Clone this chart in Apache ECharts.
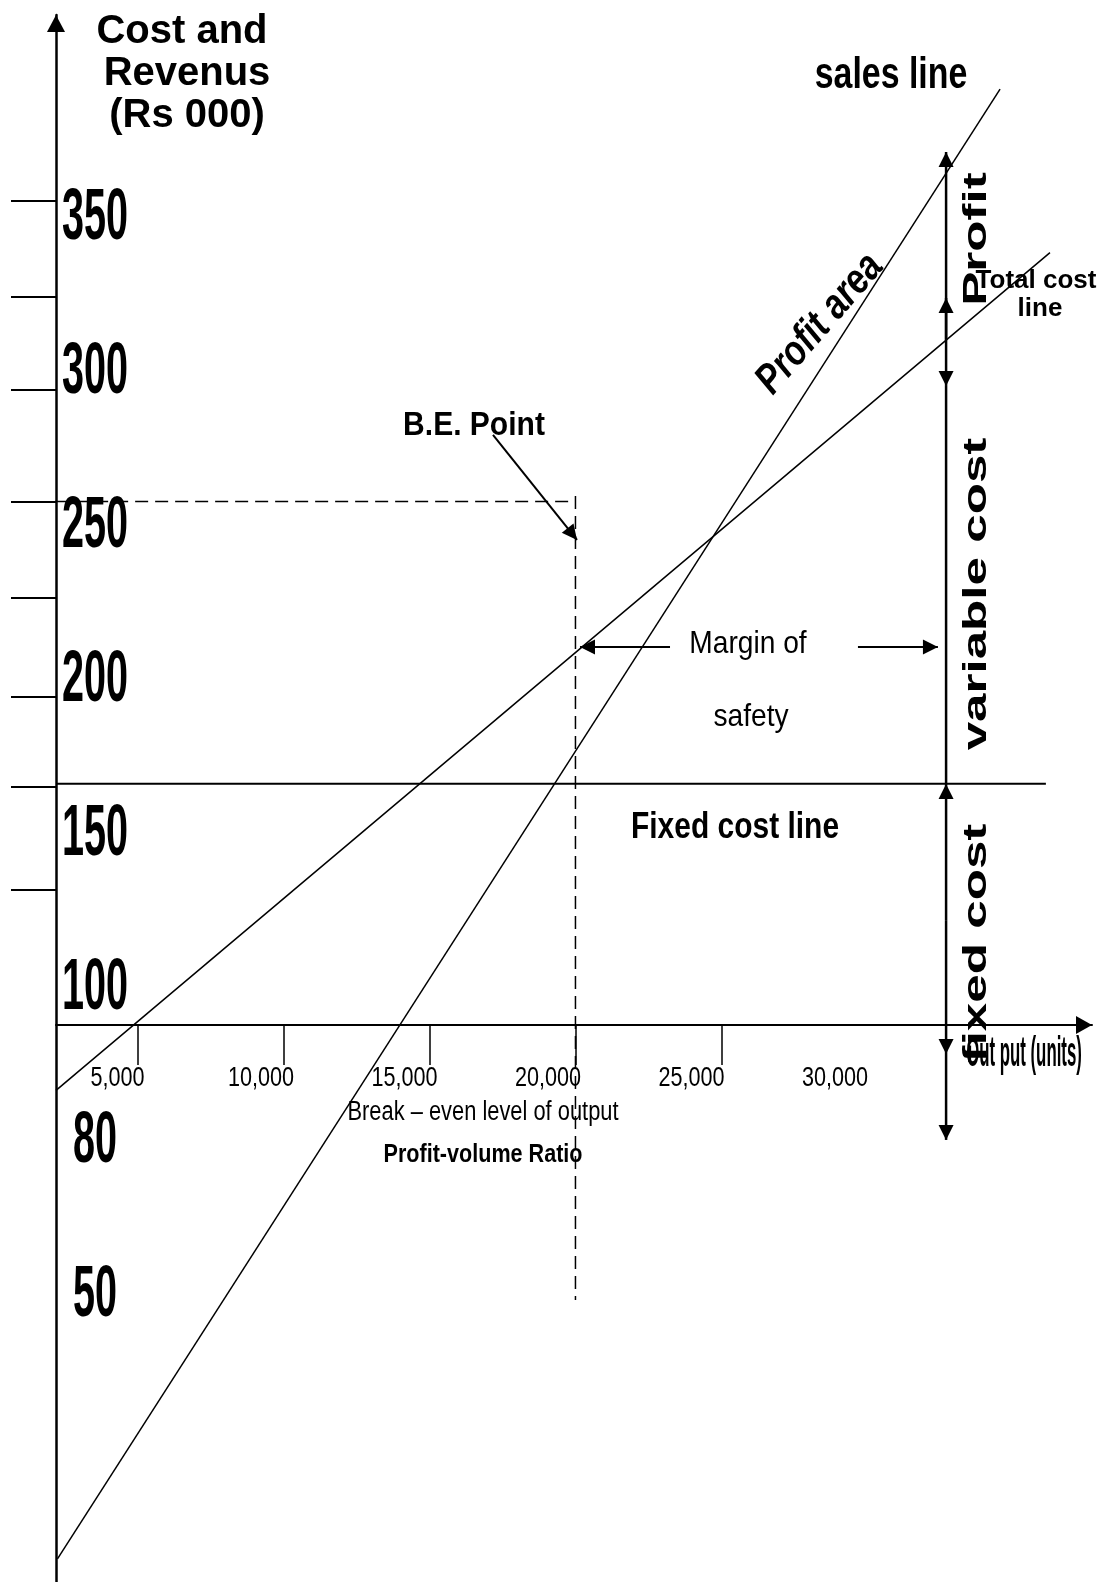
<!DOCTYPE html>
<html><head><meta charset="utf-8">
<script src="https://cdn.jsdelivr.net/npm/echarts@6/dist/echarts.min.js"></script>
<style>html,body{margin:0;padding:0;background:#fff}#c{width:1108px;height:1582px}</style>
</head><body><div id="c"></div>
<script>
// ---- values: output in units, cost / revenue in Rs 000 ----
const salesLine      = [[2250, -87.5], [34550, 389.9]];
const totalCostLine  = [[2200, 64.7], [36260, 336.8]];
const fixedCostLine  = [[2200, 164.3], [36120, 164.3]];
const beLevelLine    = [[800, 256], [20000, 256]];
const beOutputLine   = [[20000, 257.8], [20000, -3.4]];
const xTickValues    = [5000, 10000, 15000, 20000, 25000];
const xLabelValues   = [5000, 10000, 15000, 20000, 25000, 30000];
const xLabelTexts    = ['5,000', '10,000', '15,000', '20,000', '25,000', '30,000'];
const yLabelValues   = [350, 300, 250, 200, 150, 100, 50, 0];
const yLabelTexts    = ['350', '300', '250', '200', '150', '100', '80', '50'];
const yTickValues    = [353.6, 322.4, 292.2, 255.8, 224.6, 192.5, 163.2, 129.8];
// arrows: [x1, y1, x2, y2, headAtEnd]
const beArrow        = [[17174, 277.6, 20053, 243.5, 1]];
const marginArrows   = [[23240, 208.7, 20155, 208.7, 1], [29680, 208.7, 32420, 208.7, 1]];
const bracketArrows  = [
  [32700, 308.5, 32700, 369.5, 1],
  [32700, 308.5, 32700, 322.1, 1],
  [32700, 308.5, 32700, 293.5, 1],
  [32700, 293.5, 32700, 164.2, 0],
  [32700, 120.0, 32700, 164.2, 1],
  [32700, 120.0, 32700, 76.5, 1],
  [32700, 76.5, 32700, 48.6, 1]
];

const FONT = '"Liberation Sans", Arial, Helvetica, sans-serif';

function lineSeries(data, width, dashed) {
  return {
    type: 'line', data: data, symbol: 'none', silent: true, clip: false,
    lineStyle: { color: '#000', width: width, type: dashed ? [13, 7] : 'solid' },
    z: 3
  };
}
function arrowSeries(data, width) {
  return {
    type: 'custom', coordinateSystem: 'cartesian2d', xAxisIndex: 0, yAxisIndex: 0,
    data: data, silent: true, clip: false, z: 4,
    renderItem: function (params, api) {
      const p1 = api.coord([api.value(0), api.value(1)]);
      const p2 = api.coord([api.value(2), api.value(3)]);
      const children = [{
        type: 'line', shape: { x1: p1[0], y1: p1[1], x2: p2[0], y2: p2[1] },
        style: { stroke: '#000', lineWidth: width }
      }];
      if (api.value(4)) {
        const dx = p2[0] - p1[0], dy = p2[1] - p1[1], len = Math.hypot(dx, dy) || 1;
        const ux = dx / len, uy = dy / len, L = 15, W = 7.5;
        const bx = p2[0] - ux * L, by = p2[1] - uy * L;
        children.push({
          type: 'polygon',
          shape: { points: [[p2[0], p2[1]], [bx - uy * W, by + ux * W], [bx + uy * W, by - ux * W]] },
          style: { fill: '#000' }
        });
      }
      return { type: 'group', children: children };
    }
  };
}

const option = {
  animation: false,
  backgroundColor: '#fff',
  grid: { left: 56, right: 16, top: 15, bottom: 0, containLabel: false, outerBoundsMode: 'none' },
  xAxis: [
    {
      type: 'value', min: 2200, max: 37700, position: 'bottom', offset: -557,
      axisLine: { show: true, onZero: false, symbol: ['none', 'triangle'], symbolSize: [18, 16], symbolOffset: [0, -8],
        lineStyle: { color: '#000', width: 2 } },
      axisTick: { show: true, customValues: xTickValues, length: 40, lineStyle: { color: '#000', width: 1.5 } },
      axisLabel: { show: false }, splitLine: { show: false }
    },
    {
      type: 'value', min: 2857, max: 38959, show: false
    }
  ],
  yAxis: [
    {
      type: 'value', min: -95, max: 414, position: 'left',
      axisLine: { show: true, onZero: false, symbol: ['none', 'triangle'], symbolSize: [18, 17], symbolOffset: [0, -8.5],
        lineStyle: { color: '#000', width: 2.5 } },
      axisTick: { show: true, customValues: yTickValues, length: 45, lineStyle: { color: '#000', width: 2 } },
      axisLabel: { show: false }, splitLine: { show: false }
    }
  ],
  series: [
    lineSeries(salesLine, 1.5),
    lineSeries(totalCostLine, 1.5),
    lineSeries(fixedCostLine, 2),
    lineSeries(beLevelLine, 1.5, true),
    lineSeries(beOutputLine, 1.5, true),
    arrowSeries(beArrow, 2),
    arrowSeries(marginArrows, 2),
    arrowSeries(bracketArrows, 2.5)
  ]
};

const chart = echarts.init(document.getElementById('c'), null, { renderer: 'canvas' });
chart.setOption(option);

function txt(s, x, y, o) {
  return {
    type: 'text', x: x, y: y, rotation: o.rot || 0, scaleX: o.sx || 1, scaleY: o.sy || 1, z: 20,
    style: {
      text: s, fill: '#000',
      font: (o.it ? 'italic ' : '') + (o.bold ? 'bold ' : '') + o.size + 'px ' + FONT,
      textAlign: o.align || 'center', textVerticalAlign: 'middle'
    }
  };
}

const g = [];
yLabelValues.forEach(function (v, i) {
  const py = chart.convertToPixel({ yAxisIndex: 0 }, v);
  g.push(txt(yLabelTexts[i], 95, py + 7, { bold: true, size: 72, sx: 0.55 }));
});
xLabelValues.forEach(function (v, i) {
  const px = chart.convertToPixel({ xAxisIndex: 1 }, v);
  g.push(txt(xLabelTexts[i], px, 1079, { size: 27, sx: 0.8 }));
});
// annotations
g.push(txt('Cost and', 182, 32, { bold: true, size: 40 }));
g.push(txt('Revenus', 187, 74, { bold: true, size: 40 }));
g.push(txt('(Rs 000)', 187, 116, { bold: true, size: 40 }));
g.push(txt('sales line', 891, 76, { bold: true, size: 44, sx: 0.77 }));
g.push(txt('Profit area', 820, 324, { bold: true, it: true, size: 42, sx: 0.82, rot: 49 * Math.PI / 180 }));
g.push(txt('B.E. Point', 474, 426, { bold: true, size: 33, sx: 0.91 }));
g.push(txt('Margin of', 748, 644, { size: 32, sx: 0.88 }));
g.push(txt('safety', 751, 717, { size: 32, sx: 0.88 }));
g.push(txt('Fixed cost line', 735, 828, { bold: true, size: 37, sx: 0.81 }));
g.push(txt('Total cost', 1036, 281, { bold: true, size: 26 }));
g.push(txt('line', 1040, 309, { bold: true, size: 26 }));
g.push(txt('Profit', 977, 239, { bold: true, size: 33, sx: 1.55, rot: Math.PI / 2 }));
g.push(txt('variable cost', 977, 594, { bold: true, size: 33, sx: 1.55, rot: Math.PI / 2 }));
g.push(txt('fixed cost', 977, 943, { bold: true, size: 33, sx: 1.55, rot: Math.PI / 2 }));
g.push(txt('Out put (units)', 1024, 1054, { bold: true, size: 42, sx: 0.4 }));
g.push(txt('Break \u2013 even level of output', 483, 1113, { size: 27, sx: 0.81 }));
g.push(txt('Profit-volume Ratio', 483, 1155, { bold: true, size: 26, sx: 0.83 }));

chart.setOption({ graphic: g });
</script>
</body></html>
